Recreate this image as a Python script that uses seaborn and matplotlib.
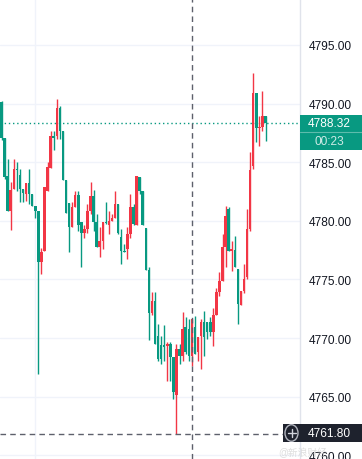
import numpy as np
import matplotlib
matplotlib.use("Agg")
import matplotlib.pyplot as plt
import seaborn as sns
from matplotlib.patches import Rectangle, Circle

# OHLC (red = up, green = down)
opens = [4790.1, 4787.1, 4783.8, 4780.8, 4782.7, 4784.4, 4783.9, 4782.7, 4782.3, 4783.2,
         4782.3, 4781.3, 4780.8, 4776.5, 4777.4, 4782.5, 4784.5, 4787.2, 4787.2, 4789.6,
         4787.7, 4783.5, 4781.5, 4779.5, 4781.2, 4782.2, 4779.9, 4779.0, 4779.3, 4780.8,
         4782.1, 4779.9, 4777.8, 4778.3, 4779.9, 4779.6, 4780.0, 4780.2, 4781.4, 4778.6,
         4777.4, 4777.6, 4778.9, 4781.2, 4779.6, 4783.7, 4782.5, 4779.4, 4775.8, 4772.1,
         4773.2, 4770.2, 4769.4, 4769.4, 4769.3, 4769.5, 4768.4, 4765.1, 4769.1, 4768.5,
         4770.9, 4770.8, 4768.5, 4770.9, 4768.8, 4770.2, 4771.4, 4771.4, 4771.4, 4770.5,
         4772.0, 4773.9, 4774.9, 4777.8, 4781.0, 4777.4, 4777.5, 4775.9, 4772.8, 4774.0,
         4775.2, 4779.3, 4784.7, 4790.9, 4787.9, 4788.0, 4788.9]
highs = [4790.2, 4787.1, 4785.3, 4783.3, 4785.3, 4785.0, 4784.4, 4782.7, 4783.2, 4784.4,
         4782.3, 4781.3, 4780.8, 4777.7, 4782.9, 4785.0, 4787.7, 4787.7, 4790.4, 4789.8,
         4787.7, 4783.5, 4781.5, 4781.6, 4782.5, 4782.5, 4779.9, 4779.6, 4781.4, 4783.3,
         4782.6, 4780.6, 4779.5, 4779.9, 4781.6, 4780.8, 4780.6, 4782.5, 4781.4, 4779.3,
         4778.0, 4779.5, 4782.3, 4781.4, 4783.8, 4783.7, 4782.5, 4779.4, 4776.1, 4773.9,
         4773.9, 4771.2, 4770.2, 4771.1, 4769.7, 4769.7, 4768.4, 4769.5, 4769.5, 4772.2,
         4771.8, 4771.6, 4771.6, 4771.9, 4770.1, 4771.6, 4772.3, 4771.4, 4771.8, 4772.6,
         4774.3, 4775.6, 4778.9, 4781.3, 4781.2, 4778.3, 4778.7, 4775.9, 4774.0, 4776.3,
         4781.0, 4785.9, 4792.6, 4790.9, 4788.9, 4791.1, 4788.9]
lows = [4786.9, 4783.6, 4780.8, 4779.2, 4782.7, 4782.5, 4781.6, 4781.6, 4781.7, 4781.4,
        4781.3, 4780.2, 4766.9, 4775.5, 4777.4, 4782.5, 4784.5, 4786.0, 4787.0, 4787.0,
        4783.5, 4780.7, 4777.3, 4779.5, 4781.2, 4779.1, 4776.1, 4778.5, 4779.0, 4780.6,
        4779.1, 4777.8, 4776.9, 4777.6, 4779.7, 4778.9, 4780.0, 4780.2, 4778.9, 4776.3,
        4777.3, 4776.7, 4778.5, 4779.6, 4779.6, 4782.3, 4779.6, 4775.8, 4769.8, 4772.0,
        4769.5, 4768.0, 4767.8, 4768.0, 4766.3, 4766.3, 4764.8, 4761.8, 4767.8, 4768.0,
        4768.6, 4768.0, 4767.6, 4768.6, 4768.0, 4767.4, 4768.5, 4769.9, 4770.2, 4769.3,
        4772.0, 4773.6, 4774.9, 4776.1, 4777.4, 4775.7, 4776.1, 4771.2, 4772.8, 4773.8,
        4775.0, 4779.1, 4784.4, 4786.7, 4786.4, 4787.7, 4786.8]
closes = [4787.1, 4783.7, 4780.8, 4782.6, 4784.4, 4784.3, 4782.7, 4782.4, 4783.2, 4782.3,
          4781.3, 4780.8, 4776.5, 4777.3, 4782.9, 4784.6, 4787.2, 4787.1, 4789.6, 4787.7,
          4783.5, 4780.7, 4779.5, 4781.2, 4782.2, 4779.6, 4779.0, 4779.3, 4780.8, 4782.1,
          4779.9, 4777.8, 4778.3, 4779.9, 4779.8, 4780.0, 4780.2, 4781.4, 4779.0, 4777.4,
          4777.3, 4778.9, 4781.2, 4779.7, 4783.8, 4782.5, 4779.6, 4775.8, 4772.1, 4773.2,
          4769.5, 4768.2, 4768.2, 4769.2, 4769.5, 4768.4, 4765.4, 4769.1, 4768.5, 4770.8,
          4768.8, 4768.5, 4771.6, 4768.6, 4770.1, 4771.4, 4770.1, 4770.5, 4770.5, 4772.0,
          4773.9, 4774.9, 4777.8, 4780.4, 4777.4, 4777.6, 4776.1, 4772.9, 4774.0, 4775.0,
          4779.3, 4784.3, 4790.9, 4787.9, 4788.0, 4788.9, 4788.32]

price_ticks = [4760, 4765, 4770, 4775, 4780, 4785, 4790, 4795]
last_price = 4788.32
countdown = "00:23"
cross_price = 4761.80
cross_bar = 62.05
grid_bar = 10.9

UP = "#f23645"
DOWN = "#089981"
W, H = 362, 460
PLOT_W = 300

sns.set_style("white")
plt.rcParams["font.family"] = ["Liberation Sans", "Noto Sans CJK SC", "DejaVu Sans"]

fig = plt.figure(figsize=(W / 100, H / 100), dpi=100)
ax = fig.add_axes([0, 0, PLOT_W / W, 1])

n = len(opens)
x = np.arange(n)
o = np.array(opens)
c = np.array(closes)
cols = [UP if cc >= oo else DOWN for oo, cc in zip(o, c)]

ax.vlines(x, lows, highs, colors=cols, linewidth=1.0, zorder=3)
bottom = np.minimum(o, c)
height = np.maximum(np.abs(c - o), 0.06)
ax.bar(x, height, bottom=bottom, width=0.82, color=cols, linewidth=0, zorder=4)

# chart scale: bar pitch ~3.07 px, first bar centred 1.5 px in
pitch = 3.07
ax.set_xlim(-1.5 / pitch, (PLOT_W - 1.5) / pitch)
ax.set_ylim(4759.68, 4798.92)

for p in price_ticks:
    ax.axhline(p, color="#f0f3fa", linewidth=1.0, zorder=0)
ax.axvline(grid_bar, color="#f0f3fa", linewidth=1.0, zorder=0)

ax.axhline(last_price, color=DOWN, linestyle=(0, (1, 2)), linewidth=1.0, zorder=2)
ax.axvline(cross_bar, color="#5d606b", linestyle=(0, (4, 3)), linewidth=1.0, zorder=5)
ax.axhline(cross_price, color="#5d606b", linestyle=(0, (4, 3)), linewidth=1.0, zorder=5)

ax.set_xticks([])
ax.yaxis.tick_right()
ax.set_yticks(price_ticks)
ax.set_yticklabels([f"{p:.2f}" for p in price_ticks], fontsize=8.6, color="#131722")
ax.tick_params(axis="y", length=0, pad=6)
for s in ["top", "left", "bottom"]:
    ax.spines[s].set_visible(False)
ax.spines["right"].set_color("#e0e3eb")
ax.spines["right"].set_linewidth(1.0)


def fx(px):
    return px / W


def fy(py):
    return 1 - py / H


# last price label
fig.add_artist(Rectangle((fx(300), fy(151)), fx(62), 35 / H, transform=fig.transFigure,
                         facecolor=DOWN, edgecolor="none", zorder=10))
fig.add_artist(plt.Line2D([fx(300), 1], [fy(133), fy(133)], transform=fig.transFigure,
                          color="#ffffff", alpha=0.35, linewidth=0.8, zorder=11))
fig.text(fx(308), fy(124.5), f"{last_price:.2f}", color="white", fontsize=8.6,
         va="center", ha="left", zorder=12)
fig.text(fx(329.5), fy(142.5), countdown, color="white", alpha=0.8, fontsize=8.6,
         va="center", ha="center", zorder=12)

# crosshair price label
fig.add_artist(Rectangle((fx(283), fy(443)), fx(79), 18 / H, transform=fig.transFigure,
                         facecolor="#1e222d", edgecolor="none", zorder=10))
fig.add_artist(Circle((fx(291.5), fy(434)), 6.5 / W, transform=fig.transFigure,
                      facecolor="none", edgecolor="#b2b5be", linewidth=1.0, zorder=11))
fig.add_artist(plt.Line2D([fx(287.5), fx(295.5)], [fy(434), fy(434)], transform=fig.transFigure,
                          color="#d1d4dc", linewidth=1.0, zorder=11))
fig.add_artist(plt.Line2D([fx(291.5), fx(291.5)], [fy(430), fy(438)], transform=fig.transFigure,
                          color="#d1d4dc", linewidth=1.0, zorder=11))
fig.text(fx(308), fy(434), f"{cross_price:.2f}", color="white", fontsize=8.6,
         va="center", ha="left", zorder=12)

# faint watermark
fig.text(fx(278), fy(453), "@新浪财经", color="#c8c8c8", alpha=0.6, fontsize=7,
         va="center", ha="left", zorder=9)

fig.savefig("out.png", dpi=100)
